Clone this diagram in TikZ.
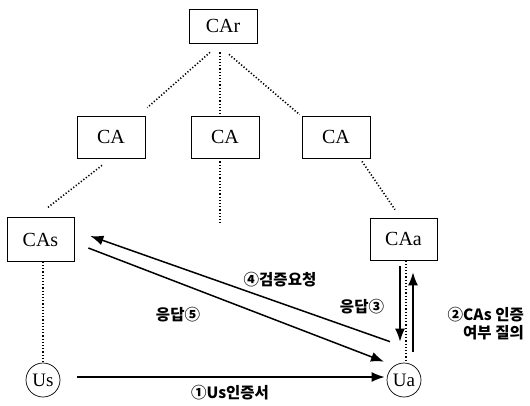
\documentclass[tikz,border=0pt]{standalone}
\usepackage{fontspec}
\setmainfont{Liberation Serif}
\newfontfamily\kr{Noto Sans CJK KR}
\usetikzlibrary{arrows.meta,calc}
\begin{document}
\begin{tikzpicture}[x=1pt,y=-1pt,
  box/.style={draw,line width=0.7pt,minimum height=36pt,inner sep=0pt,font=\fontsize{20}{20}\selectfont},
  user/.style={draw,circle,line width=0.7pt,minimum size=34pt,inner sep=0pt,font=\fontsize{19}{19}\selectfont},
  dotline/.style={line width=1.6pt,dash pattern=on 1.2pt off 2pt},
  arr/.style={line width=1.5pt,-{Latex[length=13pt,width=10pt]}},
  lbl/.style={font=\kr\bfseries\fontsize{15.5}{18}\selectfont,inner sep=0pt}]
\useasboundingbox (0,0) rectangle (530,405);
\node[box,minimum width=68pt,minimum height=34pt] (CAr) at (223,26) {CAr};
\node[box,minimum width=68pt,minimum height=42pt] (CA1) at (111,137) {CA};
\node[box,minimum width=68pt,minimum height=42pt] (CA2) at (225,137) {CA};
\node[box,minimum width=68pt,minimum height=42pt] (CA3) at (336,137) {CA};
\node[box,minimum width=67pt,minimum height=44pt] (CAs) at (40.5,239.5) {CAs};
\node[box,minimum width=67pt,minimum height=42pt] (CAa) at (403.5,239) {CAa};
\node[user] (Us) at (43,380) {Us};
\node[user] (Ua) at (404,380) {Ua};
\coordinate (mid) at (220,223);
% dotted tree lines
\draw[dotline] ($(CAr.south)+(-13,9)$) -- ($(CA1.north east)+(2,-8)$);
\draw[dotline] ($(CAr.south)+(-3,9)$) -- ($(CA2.north)+(-5,-1)$);
\draw[dotline] ($(CAr.south)+(6,11)$) -- ($(CA3.north west)+(-2,-1)$);
\draw[dotline] ($(CA1.south)+(-9,7)$) -- ($(CAs.north)+(6.5,-9)$);
\draw[dotline] ($(CA2.south)+(-5,3)$) -- (mid);
\draw[dotline] ($(CA3.south)+(26,3)$) -- ($(CAa.north)+(-8.5,-8)$);
\draw[dotline] ($(CAs.south)+(2.5,0)$) -- (Us.north);
\draw[dotline] ($(CAa.south)+(2.5,0)$) -- ($(Ua.north)+(2,0)$);
% arrows
\draw[arr] ($(Us.east)+(17,-3)$) -- ($(Ua.west)+(-2,-3)$);
\draw[arr] ($(Ua.north)+(-14,-21)$) -- ($(CAs.east)+(16,-3.5)$);
\draw[arr] ($(CAs.east)+(14,8.5)$) -- ($(Ua.north)+(-20,-1)$);
\draw[arr] ($(CAa.south)+(-3.5,6)$) -- ($(Ua.north)+(-4,-21)$);
\draw[arr] ($(Ua.north)+(9,-11)$) -- ($(CAa.south)+(9.5,12)$);
% labels
\node[lbl] (l1) at (230,393) {①Us인증서};
\node[lbl] (l4) at (280,280) {④검증요청};
\node[lbl] (l5) at (178,315) {응답⑤};
\node[lbl] (l3) at (362,307) {응답③};
\node[lbl,align=right,anchor=east] (l2) at (524,324) {②CAs 인증\\여부 질의};
\end{tikzpicture}
\end{document}
